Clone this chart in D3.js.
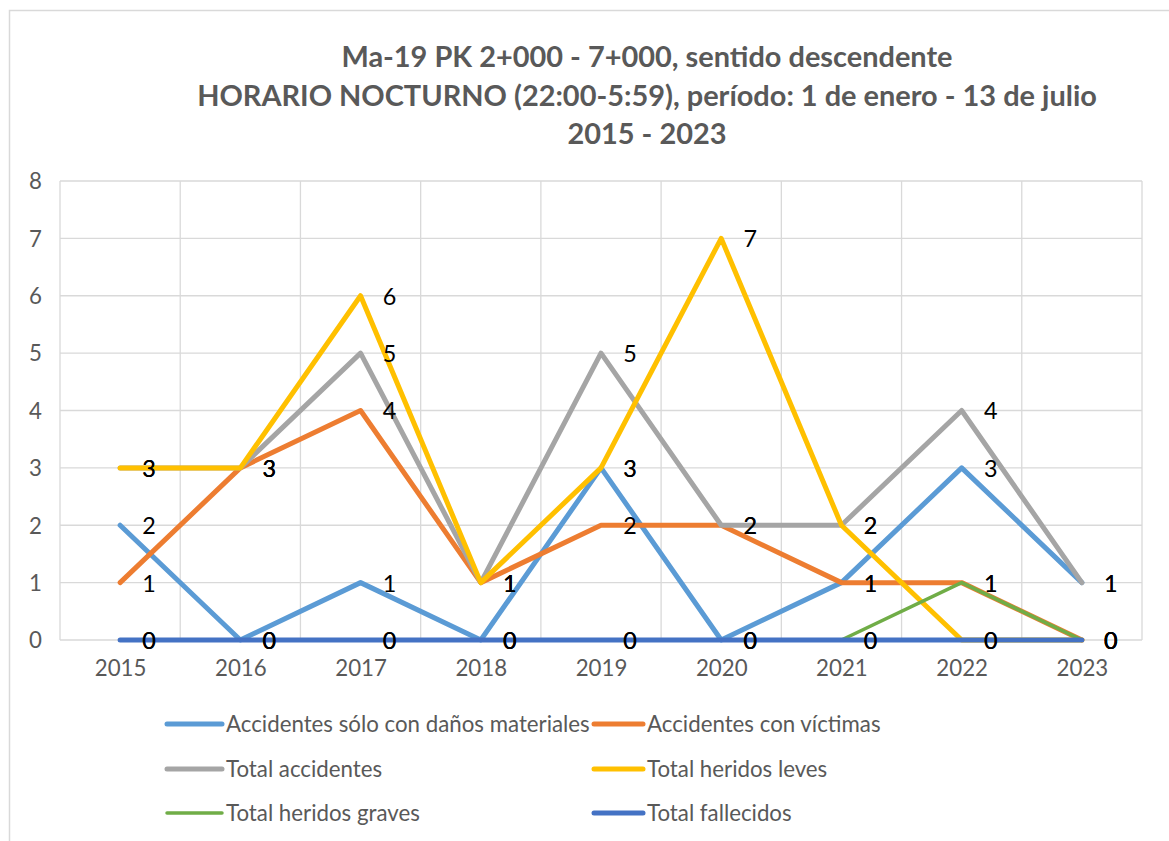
<!DOCTYPE html>
<html>
<head>
<meta charset="utf-8">
<script src="https://cdn.jsdelivr.net/npm/d3@7"></script>
<style>
  html, body { margin: 0; padding: 0; background: #fff; }
  svg { display: block; }
</style>
</head>
<body>
<svg id="chart" width="1169" height="841"></svg>
<script>
// ---- data ----
const years = ["2015", "2016", "2017", "2018", "2019", "2020", "2021", "2022", "2023"];
const seriesNames = [
  "Accidentes sólo con daños materiales",
  "Accidentes con víctimas",
  "Total accidentes",
  "Total heridos leves",
  "Total heridos graves",
  "Total fallecidos"
];
const danosMateriales = [2, 0, 1, 0, 3, 0, 1, 3, 1];
const conVictimas     = [1, 3, 4, 1, 2, 2, 1, 1, 0];
const totalAccidentes = [3, 3, 5, 1, 5, 2, 2, 4, 1];
const heridosLeves    = [3, 3, 6, 1, 3, 7, 2, 0, 0];
const heridosGraves   = [0, 0, 0, 0, 0, 0, 0, 1, 0];
const fallecidos      = [0, 0, 0, 0, 0, 0, 0, 0, 0];
const yTicks = [0, 1, 2, 3, 4, 5, 6, 7, 8];
const titleLines = [
  "Ma-19 PK 2+000 - 7+000, sentido descendente",
  "HORARIO NOCTURNO (22:00-5:59), período: 1 de enero - 13 de julio",
  "2015 - 2023"
];

// ---- styles ----
const colors = ["#5B9BD5", "#ED7D31", "#A5A5A5", "#FFC000", "#70AD47", "#4472C4"];
const widths = [5, 5, 5, 5, 3.5, 5];
const FONT = "Lato, 'Open Sans', sans-serif";
const TEXT_GRAY = "#595959";
const GRID = "#D9D9D9";

const allValues = [danosMateriales, conVictimas, totalAccidentes, heridosLeves, heridosGraves, fallecidos];
const series = seriesNames.map((name, i) => ({
  name, color: colors[i], width: widths[i],
  values: years.map((y, j) => ({ year: y, value: allValues[i][j] }))
}));

const svg = d3.select("#chart");

// chart border
svg.append("rect")
  .attr("x", 9.5).attr("y", 10.5)
  .attr("width", 1200).attr("height", 900)
  .attr("fill", "none").attr("stroke", GRID).attr("stroke-width", 1.5);

// helper: fit font size to target width
function fitSize(sel, target) {
  const len = sel.node().getComputedTextLength();
  const cur = parseFloat(sel.attr("font-size"));
  return cur * target / len;
}

// ---- title ----
const titleG = svg.append("g");
const titleBaselines = [67, 106, 144];
const tl = titleLines.map((t, i) => titleG.append("text")
  .attr("x", 647).attr("y", titleBaselines[i])
  .attr("text-anchor", "middle")
  .attr("font-family", FONT).attr("font-weight", "bold")
  .attr("font-size", 24).attr("fill", TEXT_GRAY)
  .text(t));
const titleSize = fitSize(tl[1], 900);
tl.forEach(s => s.attr("font-size", titleSize));

// ---- scales ----
const x = d3.scaleBand().domain(years).range([60, 1142]).paddingInner(0).paddingOuter(0);
const cx = d => x(d) + x.bandwidth() / 2;
const y = d3.scaleLinear().domain([0, 8]).range([640, 181]);

// measure regular text size from legend long label
const probe = svg.append("text")
  .attr("font-family", FONT).attr("font-size", 20)
  .text(seriesNames[0]);
const labelSize = fitSize(probe, 364);
probe.remove();

// ---- grid ----
const grid = svg.append("g");
grid.selectAll("line.h").data(yTicks).join("line")
  .attr("x1", 60).attr("x2", 1142)
  .attr("y1", d => y(d)).attr("y2", d => y(d))
  .attr("stroke", GRID).attr("stroke-width", 1.3);
const bounds = years.map(d => x(d)).concat([x(years[years.length - 1]) + x.bandwidth()]);
grid.selectAll("line.v").data(bounds).join("line")
  .attr("x1", d => d).attr("x2", d => d)
  .attr("y1", y(8)).attr("y2", y(0))
  .attr("stroke", GRID).attr("stroke-width", 1.3);

// ---- axes ----
const yAxis = d3.axisLeft(y).tickValues(yTicks).tickSize(0).tickPadding(0).tickFormat(d3.format("d"));
const yg = svg.append("g").attr("transform", "translate(44,0)").call(yAxis);
yg.select(".domain").remove();
yg.selectAll("text")
  .attr("font-family", FONT).attr("font-size", labelSize)
  .attr("fill", TEXT_GRAY).attr("dy", "0.35em").attr("x", -2);

const xAxis = d3.axisBottom(d3.scalePoint().domain(years).range([cx(years[0]), cx(years[years.length - 1])]))
  .tickSize(0).tickPadding(0);
const xg = svg.append("g").attr("transform", "translate(0,660)").call(xAxis);
xg.select(".domain").remove();
xg.selectAll("text")
  .attr("font-family", FONT).attr("font-size", labelSize)
  .attr("fill", TEXT_GRAY).attr("dy", "0.71em").attr("y", 0);

// ---- lines ----
const line = d3.line().x(d => cx(d.year)).y(d => y(d.value));
svg.append("g").selectAll("path").data(series).join("path")
  .attr("d", d => line(d.values))
  .attr("fill", "none")
  .attr("stroke", d => d.color)
  .attr("stroke-width", d => d.width)
  .attr("stroke-linejoin", "round")
  .attr("stroke-linecap", "round");

// ---- data labels ----
const labelsG = svg.append("g");
series.forEach(s => {
  labelsG.selectAll(null).data(s.values).join("text")
    .attr("x", d => cx(d.year) + 29)
    .attr("y", d => y(d.value))
    .attr("dy", "0.38em")
    .attr("text-anchor", "middle")
    .attr("font-family", FONT).attr("font-size", labelSize * 1.05)
    .attr("fill", "#000")
    .text(d => d.value);
});

// ---- legend ----
const legendPos = [
  [167, 724], [594, 724],
  [167, 769], [594, 769],
  [167, 813], [594, 813]
];
const lg = svg.append("g").selectAll("g").data(series).join("g")
  .attr("transform", (d, i) => `translate(${legendPos[i][0]},${legendPos[i][1]})`);
lg.append("line")
  .attr("x1", 0).attr("x2", (d, i) => i % 2 === 0 ? 55 : 49)
  .attr("y1", 0).attr("y2", 0)
  .attr("stroke", d => d.color).attr("stroke-width", d => d.width)
  .attr("stroke-linecap", "round");
lg.append("text")
  .attr("x", (d, i) => i % 2 === 0 ? 59 : 53)
  .attr("y", 0).attr("dy", "0.36em")
  .attr("font-family", FONT).attr("font-size", labelSize)
  .attr("fill", TEXT_GRAY)
  .text(d => d.name);
</script>
</body>
</html>
